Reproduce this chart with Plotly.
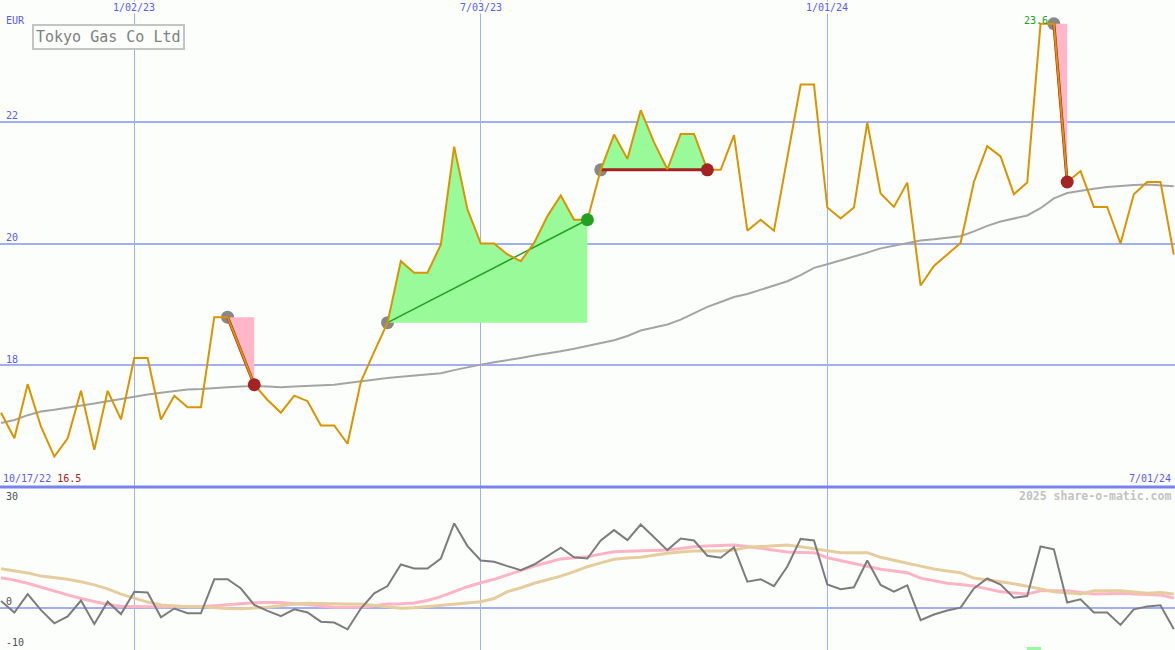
import pandas as pd
import plotly.graph_objects as go

# ---------------- data ----------------
start_date = "2022-10-24"
n_weeks = 89
dates = pd.date_range(start_date, periods=n_weeks, freq="7D")

price = [17.22, 16.80, 17.69, 16.99, 16.50, 16.80, 17.58, 16.61, 17.58, 17.11,
         18.12, 18.12, 17.11, 17.50, 17.31, 17.31, 18.79, 18.79, 18.24, 17.68,
         17.43, 17.22, 17.50, 17.41, 17.01, 17.01, 16.71, 17.73, 18.22, 18.70,
         19.71, 19.52, 19.52, 19.98, 21.59, 20.56, 20.00, 20.00, 19.82, 19.71,
         20.01, 20.45, 20.79, 20.39, 20.39, 21.21, 21.79, 21.39, 22.19, 21.66,
         21.22, 21.80, 21.80, 21.21, 21.21, 21.78, 20.21, 20.39, 20.21, 21.41,
         22.61, 22.61, 20.59, 20.41, 20.59, 21.99, 20.82, 20.60, 21.00, 19.31,
         19.63, 19.82, 20.01, 21.01, 21.60, 21.43, 20.81, 21.00, 23.61, 23.61,
         21.01, 21.19, 20.60, 20.60, 20.00, 20.81, 21.01, 21.01, 19.82]

moving_avg = [17.05, 17.10, 17.18, 17.24, 17.27, 17.30, 17.34, 17.37, 17.41, 17.45,
              17.49, 17.52, 17.55, 17.58, 17.60, 17.61, 17.63, 17.64, 17.65, 17.66,
              17.65, 17.64, 17.65, 17.66, 17.67, 17.68, 17.71, 17.74, 17.77, 17.79,
              17.81, 17.83, 17.84, 17.87, 17.92, 17.97, 18.01, 18.05, 18.08, 18.12,
              18.16, 18.19, 18.23, 18.27, 18.32, 18.36, 18.41, 18.48, 18.57, 18.62,
              18.67, 18.75, 18.85, 18.96, 19.04, 19.12, 19.17, 19.24, 19.31, 19.38,
              19.48, 19.60, 19.66, 19.72, 19.79, 19.85, 19.92, 19.96, 20.01, 20.05,
              20.07, 20.10, 20.12, 20.20, 20.29, 20.36, 20.41, 20.46, 20.58, 20.74,
              20.83, 20.87, 20.90, 20.93, 20.95, 20.96, 20.97, 20.96, 20.94]

momentum = [1.7, -1.2, 3.4, -0.6, -3.9, -2.2, 1.8, -4.1, 1.5, -1.6,
            4.0, 3.8, -2.4, -0.2, -1.4, -1.4, 7.1, 7.1, 4.8, 0.7,
            -0.8, -2.1, -0.4, -1.2, -3.5, -3.7, -5.4, -0.2, 3.6, 5.4,
            10.8, 9.8, 9.8, 12.3, 21.1, 15.4, 11.8, 11.5, 10.4, 9.4,
            10.8, 12.9, 15.0, 12.6, 12.3, 16.8, 19.4, 16.9, 20.8, 17.6,
            14.4, 17.3, 16.8, 13.0, 12.5, 15.1, 6.5, 7.1, 5.4, 10.3,
            17.2, 16.8, 5.8, 4.6, 5.1, 11.8, 5.7, 4.0, 5.6, -3.1,
            -1.7, -0.7, 0.0, 4.8, 7.3, 5.8, 2.5, 2.9, 15.3, 14.6,
            1.3, 2.1, -1.2, -1.2, -4.3, -0.4, 0.3, 0.6, -5.4]

signal_fast = [7.5, 6.9, 6.1, 5.1, 4.1, 3.2, 2.3, 1.5, 0.8, 0.35,
               0.25, 0.25, 0.25, 0.25, 0.25, 0.3, 0.5, 0.8, 1.1, 1.25,
               1.3, 1.3, 1.0, 0.8, 0.4, 0.1, 0.1, 0.1, 0.5, 0.9,
               1.0, 1.2, 1.8, 2.75, 4.0, 5.25, 6.25, 7.1, 8.2, 9.4,
               10.4, 11.3, 12.2, 12.5, 12.75, 13.4, 14.0, 14.1, 14.2, 14.3,
               14.4, 14.8, 15.25, 15.4, 15.5, 15.7, 15.3, 14.8, 14.3, 13.9,
               13.8, 13.75, 12.5, 11.8, 11.1, 10.4, 9.6, 9.2, 8.75, 7.4,
               6.8, 6.1, 5.8, 5.4, 4.7, 4.0, 3.7, 3.4, 4.25, 4.25,
               4.25, 3.8, 3.4, 3.5, 3.6, 3.4, 3.3, 3.2, 2.4]

signal_slow = [9.75, 9.3, 8.7, 7.9, 7.5, 7.1, 6.5, 5.7, 4.7, 3.4,
               2.4, 1.4, 0.7, 0.4, 0.25, 0.25, 0.0, -0.2, -0.25, -0.1,
               0.1, 0.5, 0.9, 1.1, 1.0, 0.9, 0.9, 0.9, 0.6, 0.25,
               -0.15, 0.0, 0.3, 0.7, 1.0, 1.2, 1.5, 2.3, 4.0, 5.0,
               6.1, 7.0, 7.9, 9.0, 10.25, 11.2, 12.1, 12.4, 12.6, 13.1,
               13.6, 13.9, 14.2, 14.2, 14.2, 14.4, 15.1, 15.3, 15.5, 15.7,
               15.25, 14.7, 14.2, 13.75, 13.75, 13.75, 12.6, 11.8, 11.1, 10.4,
               9.7, 9.2, 8.75, 7.4, 7.0, 6.5, 6.0, 5.4, 4.7, 4.0,
               3.7, 3.4, 4.25, 4.25, 4.25, 3.9, 3.6, 3.8, 3.4]

trade_entry = [17, 29, 45, 79]
trade_exit = [19, 44, 53, 80]

signal_bar_x = ["2024-04-18 12:00"]
signal_bar_h = [0.75]

x_tick_vals = ["2023-01-02", "2023-07-03", "2024-01-01"]
x_tick_text = ["1/02/23", "7/03/23", "1/01/24"]
y_tick_vals = [18, 20, 22]
y2_tick_text = ["30", "0", "-10"]
title_text = "Tokyo Gas Co Ltd"
currency = "EUR"
start_label = "10/17/22"
end_label = "7/01/24"
max_label = "23.6"
min_label = "16.5"
credit = "2025 share-o-matic.com"

# ---------------- styling ----------------
W, H = 1175, 650
BG = "#fcfefc"
GRID = "#a2aff2"
SEP = "#7884ec"
BLUE = "#5a5af5"
ORANGE = "#d99400"
MA_GREY = "#a4a4a4"
DARKRED = "#a52222"
GREEN = "#22a022"
PINK = "#ffb6c8"
PALEGREEN = "#98fa98"
FONT = "DejaVu Sans Mono"

split_px = 487
D = (H - split_px) / H
X_RANGE = ["2022-10-23 11:00", "2024-07-01 15:00"]
Y_RANGE = [16, 24]
Y2_RANGE = [-10.58, 30.18]


def py(p):
    return 1 - p / H


def px(p):
    return p / W


fig = go.Figure()

# main panel
fig.add_trace(go.Scatter(x=dates, y=moving_avg, mode="lines",
                         line=dict(color=MA_GREY, width=2), hoverinfo="skip"))

fig.add_trace(go.Scatter(x=[dates[i] for i in trade_entry],
                         y=[price[i] for i in trade_entry], mode="markers",
                         marker=dict(color="#888888", size=13), hoverinfo="skip"))

for a, b in zip(trade_entry, trade_exit):
    lvl = price[a]
    seg_x = list(dates[a:b + 1])
    seg_y = price[a:b + 1]
    above = sum(1 for v in seg_y if v > lvl) > 0
    fig.add_trace(go.Scatter(x=seg_x + [dates[b], dates[a]],
                             y=seg_y + [lvl, lvl], mode="lines", fill="toself",
                             fillcolor=PALEGREEN if above else PINK,
                             line=dict(width=0), hoverinfo="skip"))

for a, b in zip(trade_entry, trade_exit):
    win = price[b] > price[a]
    fig.add_trace(go.Scatter(x=[dates[a], dates[b]], y=[price[a], price[b]],
                             mode="lines",
                             line=dict(color=GREEN if win else DARKRED,
                                       width=1.5 if win else 3),
                             hoverinfo="skip"))

fig.add_trace(go.Scatter(x=dates, y=price, mode="lines",
                         line=dict(color=ORANGE, width=2), hoverinfo="skip"))

fig.add_trace(go.Scatter(x=[dates[b] for b in trade_exit],
                         y=[price[b] for b in trade_exit], mode="markers",
                         marker=dict(color=[GREEN if price[b] > price[a] else DARKRED
                                            for a, b in zip(trade_entry, trade_exit)],
                                     size=13),
                         hoverinfo="skip"))

# lower panel
fig.add_trace(go.Bar(x=signal_bar_x, y=signal_bar_h, base=[Y2_RANGE[0]],
                     width=[7 * 86400000], marker=dict(color=PALEGREEN, line=dict(width=0)),
                     xaxis="x2", yaxis="y2", hoverinfo="skip"))
fig.add_trace(go.Scatter(x=dates, y=signal_fast, mode="lines",
                         line=dict(color="#ffb4c6", width=3), xaxis="x2", yaxis="y2",
                         hoverinfo="skip"))
fig.add_trace(go.Scatter(x=dates, y=signal_slow, mode="lines",
                         line=dict(color="#e6cd9e", width=3), xaxis="x2", yaxis="y2",
                         hoverinfo="skip"))
fig.add_trace(go.Scatter(x=dates, y=momentum, mode="lines",
                         line=dict(color="#7c7c7c", width=2), xaxis="x2", yaxis="y2",
                         hoverinfo="skip"))

axis_common = dict(showticklabels=False, zeroline=False, showline=False,
                   ticks="", fixedrange=True)

fig.update_layout(
    width=W, height=H, margin=dict(l=0, r=0, t=0, b=0),
    paper_bgcolor=BG, plot_bgcolor=BG, showlegend=False,
    xaxis=dict(type="date", range=X_RANGE, domain=[0, 1], anchor="y",
               tickvals=x_tick_vals, showgrid=True, gridcolor=GRID, gridwidth=1,
               **axis_common),
    xaxis2=dict(type="date", range=X_RANGE, domain=[0, 1], anchor="y2", matches="x",
                tickvals=x_tick_vals, showgrid=True, gridcolor=GRID, gridwidth=1,
                **axis_common),
    yaxis=dict(domain=[D, 1], range=Y_RANGE, tickvals=y_tick_vals, showgrid=True,
               gridcolor=GRID, gridwidth=2, anchor="x", **axis_common),
    yaxis2=dict(domain=[0, D], range=Y2_RANGE, tickvals=[0], showgrid=True,
                gridcolor=GRID, gridwidth=2, anchor="x2", **axis_common),
    bargap=0,
)

fig.add_shape(type="line", xref="paper", yref="paper", x0=0, x1=1, y0=D, y1=D,
              line=dict(color=SEP, width=3), layer="above")

ann = []
for v, t in zip(x_tick_vals, x_tick_text):
    ann.append(dict(x=v, xref="x", y=1, yref="paper", yanchor="top", xanchor="center",
                    text=t, showarrow=False, bgcolor=BG, borderpad=0, yshift=-1,
                    font=dict(family=FONT, size=10, color=BLUE)))
for v in y_tick_vals:
    ann.append(dict(x=0, xref="paper", y=v, yref="y", xanchor="left", yanchor="middle",
                    xshift=4, yshift=6, text=str(v), showarrow=False,
                    font=dict(family=FONT, size=10, color=BLUE)))
ann.append(dict(x=px(4), xref="paper", y=py(21), yref="paper", xanchor="left",
                yanchor="middle", text=currency, showarrow=False,
                font=dict(family=FONT, size=10, color=BLUE)))
ann.append(dict(x=px(32), xref="paper", y=py(24), yref="paper", xanchor="left",
                yanchor="top", text=title_text, showarrow=False, bgcolor=BG,
                bordercolor="#c4c4c4", borderwidth=2, borderpad=2,
                font=dict(family=FONT, size=15, color="#808080")))
ann.append(dict(x=px(1), xref="paper", y=py(478), yref="paper", xanchor="left",
                yanchor="middle", showarrow=False,
                text=f"<span style='color:{BLUE}'>{start_label}</span> "
                     f"<span style='color:{DARKRED}'>{min_label}</span>",
                font=dict(family=FONT, size=10, color=BLUE)))
ann.append(dict(x=px(1173), xref="paper", y=py(478), yref="paper", xanchor="right",
                yanchor="middle", text=end_label, showarrow=False,
                font=dict(family=FONT, size=10, color=BLUE)))
ann.append(dict(x=px(1173), xref="paper", y=py(496), yref="paper", xanchor="right",
                yanchor="middle", text=f"<b>{credit}</b>", showarrow=False,
                font=dict(family=FONT, size=11.5, color="#c2c2c2")))
ann.append(dict(x=dates[trade_entry[-1]], xref="x", y=price[trade_entry[-1]], yref="y",
                xanchor="right", yanchor="middle", xshift=-4, yshift=3,
                text=max_label, showarrow=False,
                font=dict(family=FONT, size=10, color=GREEN)))
for t, p in zip(y2_tick_text, [496, 601.7, 642.7]):
    ann.append(dict(x=px(4), xref="paper", y=py(p), yref="paper", xanchor="left",
                    yanchor="middle", text=t, showarrow=False,
                    font=dict(family=FONT, size=10, color="#505050")))
fig.update_layout(annotations=ann)

fig.write_html("out.html", config={"displayModeBar": False},
               post_script="document.body.style.margin='0';"
                           "document.body.style.overflow='hidden';")
